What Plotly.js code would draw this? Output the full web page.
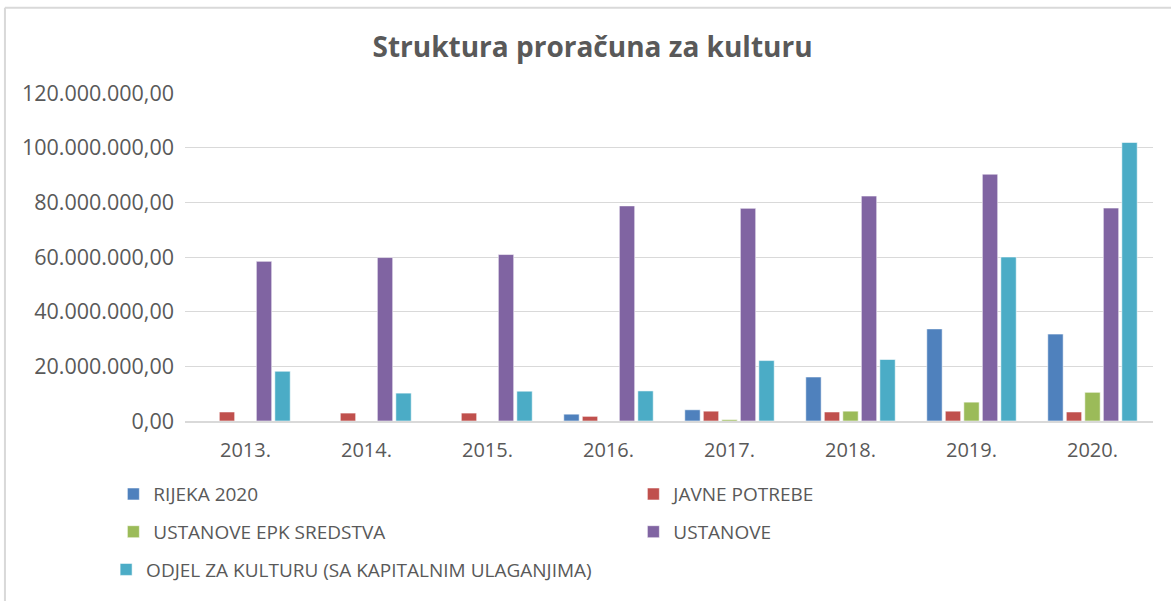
<!DOCTYPE html>
<html>
<head>
<meta charset="utf-8">
<script src="https://cdn.plot.ly/plotly-3.0.1.min.js"></script>
<style>html,body{margin:0;padding:0;background:#fff;}#chart{width:1171px;height:601px;}</style>
</head>
<body>
<div id="chart"></div>
<script>
const categories = ["2013.", "2014.", "2015.", "2016.", "2017.", "2018.", "2019.", "2020."];
const seriesNames = ["RIJEKA 2020", "JAVNE POTREBE", "USTANOVE EPK SREDSTVA", "USTANOVE", "ODJEL ZA KULTURU (SA KAPITALNIM ULAGANJIMA)"];
const rijeka2020 = [0, 0, 0, 2500000, 4100000, 16100000, 33700000, 31800000];
const javnePotrebe = [3300000, 2900000, 2900000, 1700000, 3600000, 3300000, 3600000, 3300000];
const ustanoveEpk = [0, 0, 0, 0, 500000, 3600000, 6900000, 10500000];
const ustanove = [58400000, 59800000, 60900000, 78700000, 77800000, 82300000, 90300000, 77900000];
const odjelZaKulturu = [18200000, 10200000, 10900000, 11000000, 22100000, 22500000, 60000000, 101900000];
const seriesValues = [rijeka2020, javnePotrebe, ustanoveEpk, ustanove, odjelZaKulturu];
const colors = ["#4F81BD", "#C0504D", "#9BBB59", "#8064A2", "#4BACC6"];
const legendIds = ["legend", "legend", "legend2", "legend2", "legend3"];

const traces = seriesValues.map((vals, i) => ({
  type: "bar",
  name: seriesNames[i],
  x: categories,
  y: vals,
  marker: {color: colors[i], line: {color: "rgba(255,255,255,0.55)", width: 1}},
  legend: legendIds[i],
  hoverinfo: "y+name"
}));

const legendBase = {
  orientation: "h",
  xanchor: "left",
  yanchor: "top",
  x: -0.074,
  entrywidth: 475,
  entrywidthmode: "pixels",
  font: {family: "Open Sans, sans-serif", size: 19, color: "#595959"},
  bgcolor: "rgba(0,0,0,0)",
  traceorder: "normal"
};

const layout = {
  width: 1171,
  height: 601,
  margin: {l: 185, r: 18, t: 93, b: 177},
  paper_bgcolor: "#ffffff",
  plot_bgcolor: "#ffffff",
  separators: ",.",
  title: {
    text: "<b>Struktura proračuna za kulturu</b>",
    font: {family: "Open Sans, sans-serif", size: 28, color: "#595959"},
    x: 0.506, xref: "container", xanchor: "center",
    y: 0.922, yref: "container", yanchor: "middle"
  },
  bargap: 0.235,
  bargroupgap: 0.17,
  barmode: "group",
  xaxis: {
    type: "category",
    tickfont: {family: "Open Sans, sans-serif", size: 20, color: "#595959"},
    showline: true, linecolor: "#d9d9d9", linewidth: 2,
    ticks: "", ticklabelstandoff: 10,
    fixedrange: true
  },
  yaxis: {
    range: [0, 120000000],
    dtick: 20000000,
    tickformat: ",.2f",
    tickfont: {family: "Open Sans, sans-serif", size: 21.5, color: "#595959"},
    gridcolor: "#d9d9d9", gridwidth: 1,
    zeroline: false, showline: false,
    ticklabelstandoff: 10,
    fixedrange: true
  },
  legend: Object.assign({}, legendBase, {y: -0.165}),
  legend2: Object.assign({}, legendBase, {y: -0.28}),
  legend3: Object.assign({}, legendBase, {y: -0.395, x: -0.0815}),
  shapes: [
    {type: "line", xref: "paper", yref: "paper", x0: -0.186, x1: 1.1, y0: 1.26, y1: 1.26, line: {color: "#d9d9d9", width: 2}},
    {type: "line", xref: "paper", yref: "paper", x0: -0.186, x1: -0.186, y0: 1.26, y1: -0.6, line: {color: "#d9d9d9", width: 2}}
  ]
};

Plotly.newPlot("chart", traces, layout, {displayModeBar: false, responsive: false});
</script>
</body>
</html>
